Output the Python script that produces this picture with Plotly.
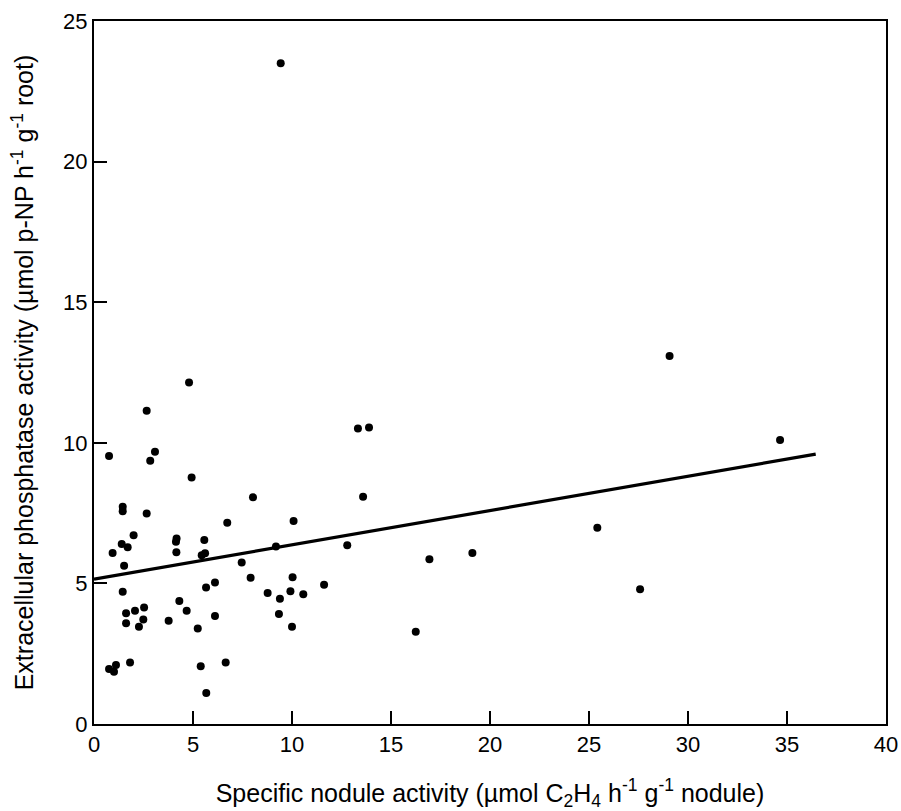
import plotly.graph_objects as go

# Specific nodule activity (x) and extracellular phosphatase activity (y)
nodule_activity = [
    9.43, 0.76, 2.66, 4.80, 3.08, 2.84, 4.93, 1.45, 1.45, 2.66,
    6.73, 2.00, 1.40, 1.70, 0.94, 4.14, 4.17, 4.16, 5.57, 5.61,
    5.44, 1.52, 7.46, 1.45, 5.66, 6.11, 4.31, 4.68, 1.62, 2.07,
    2.53, 1.62, 2.49, 2.27, 3.77, 5.24, 6.11, 0.76, 1.01, 1.11,
    1.82, 5.39, 6.65, 5.67, 13.33, 13.89, 8.03, 13.59, 10.08, 9.19,
    12.79, 7.91, 10.03, 8.77, 9.39, 9.92, 10.57, 11.62, 9.34, 10.00,
    16.94, 19.11, 16.25, 25.42, 27.58, 29.07, 34.65,
]
phosphatase_activity = [
    23.50, 9.53, 11.14, 12.14, 9.68, 9.36, 8.77, 7.73, 7.57, 7.49,
    7.16, 6.71, 6.40, 6.29, 6.08, 6.48, 6.60, 6.11, 6.54, 6.07,
    6.00, 5.63, 5.74, 4.70, 4.85, 5.03, 4.37, 4.03, 3.94, 4.03,
    4.14, 3.58, 3.72, 3.46, 3.67, 3.40, 3.84, 1.96, 1.86, 2.10,
    2.19, 2.05, 2.19, 1.10, 10.51, 10.54, 8.06, 8.08, 7.22, 6.31,
    6.36, 5.20, 5.22, 4.66, 4.45, 4.72, 4.61, 4.95, 3.91, 3.46,
    5.86, 6.08, 3.28, 6.98, 4.79, 13.09, 10.10,
]

# Linear regression line
fit_intercept = 5.15
fit_slope = 0.122
fit_x = [0.0, 36.45]
fit_y = [fit_intercept + fit_slope * v for v in fit_x]

x_ticks = [0, 5, 10, 15, 20, 25, 30, 35, 40]
y_ticks = [0, 5, 10, 15, 20, 25]

FONT = "Liberation Sans, Arial, Helvetica, sans-serif"

fig = go.Figure()
fig.add_trace(go.Scatter(
    x=fit_x, y=fit_y, mode="lines",
    line=dict(color="black", width=3.2),
    showlegend=False, hoverinfo="skip",
))
fig.add_trace(go.Scatter(
    x=nodule_activity, y=phosphatase_activity, mode="markers",
    marker=dict(color="black", size=8, line=dict(width=0)),
    showlegend=False,
))

axis_common = dict(
    showgrid=False, zeroline=False, automargin=False,
    showline=True, linecolor="black", linewidth=2, mirror=True,
    ticks="inside", ticklen=13, tickwidth=2, tickcolor="black",
    tickfont=dict(family=FONT, size=22, color="black"),
)

fig.update_xaxes(
    range=[0, 40], tickvals=x_ticks, ticktext=[str(v) for v in x_ticks],
    title=dict(
        text="Specific nodule activity (µmol C<sub>2</sub>H<sub>4</sub> h<sup>-1</sup> g<sup>-1</sup> nodule)",
        font=dict(family=FONT, size=25, color="black"), standoff=30,
    ),
    **axis_common,
)
fig.update_yaxes(
    range=[0, 25], tickvals=y_ticks, ticktext=[str(v) for v in y_ticks],
    title=dict(
        text="Extracellular phosphatase activity (µmol p-NP h<sup>-1</sup> g<sup>-1</sup> root)",
        font=dict(family=FONT, size=25, color="black"), standoff=22,
    ),
    **axis_common,
)

fig.update_layout(
    width=901, height=811,
    margin=dict(l=94, r=15, t=21, b=87),
    paper_bgcolor="white", plot_bgcolor="white",
)

fig.write_html("out.html")
